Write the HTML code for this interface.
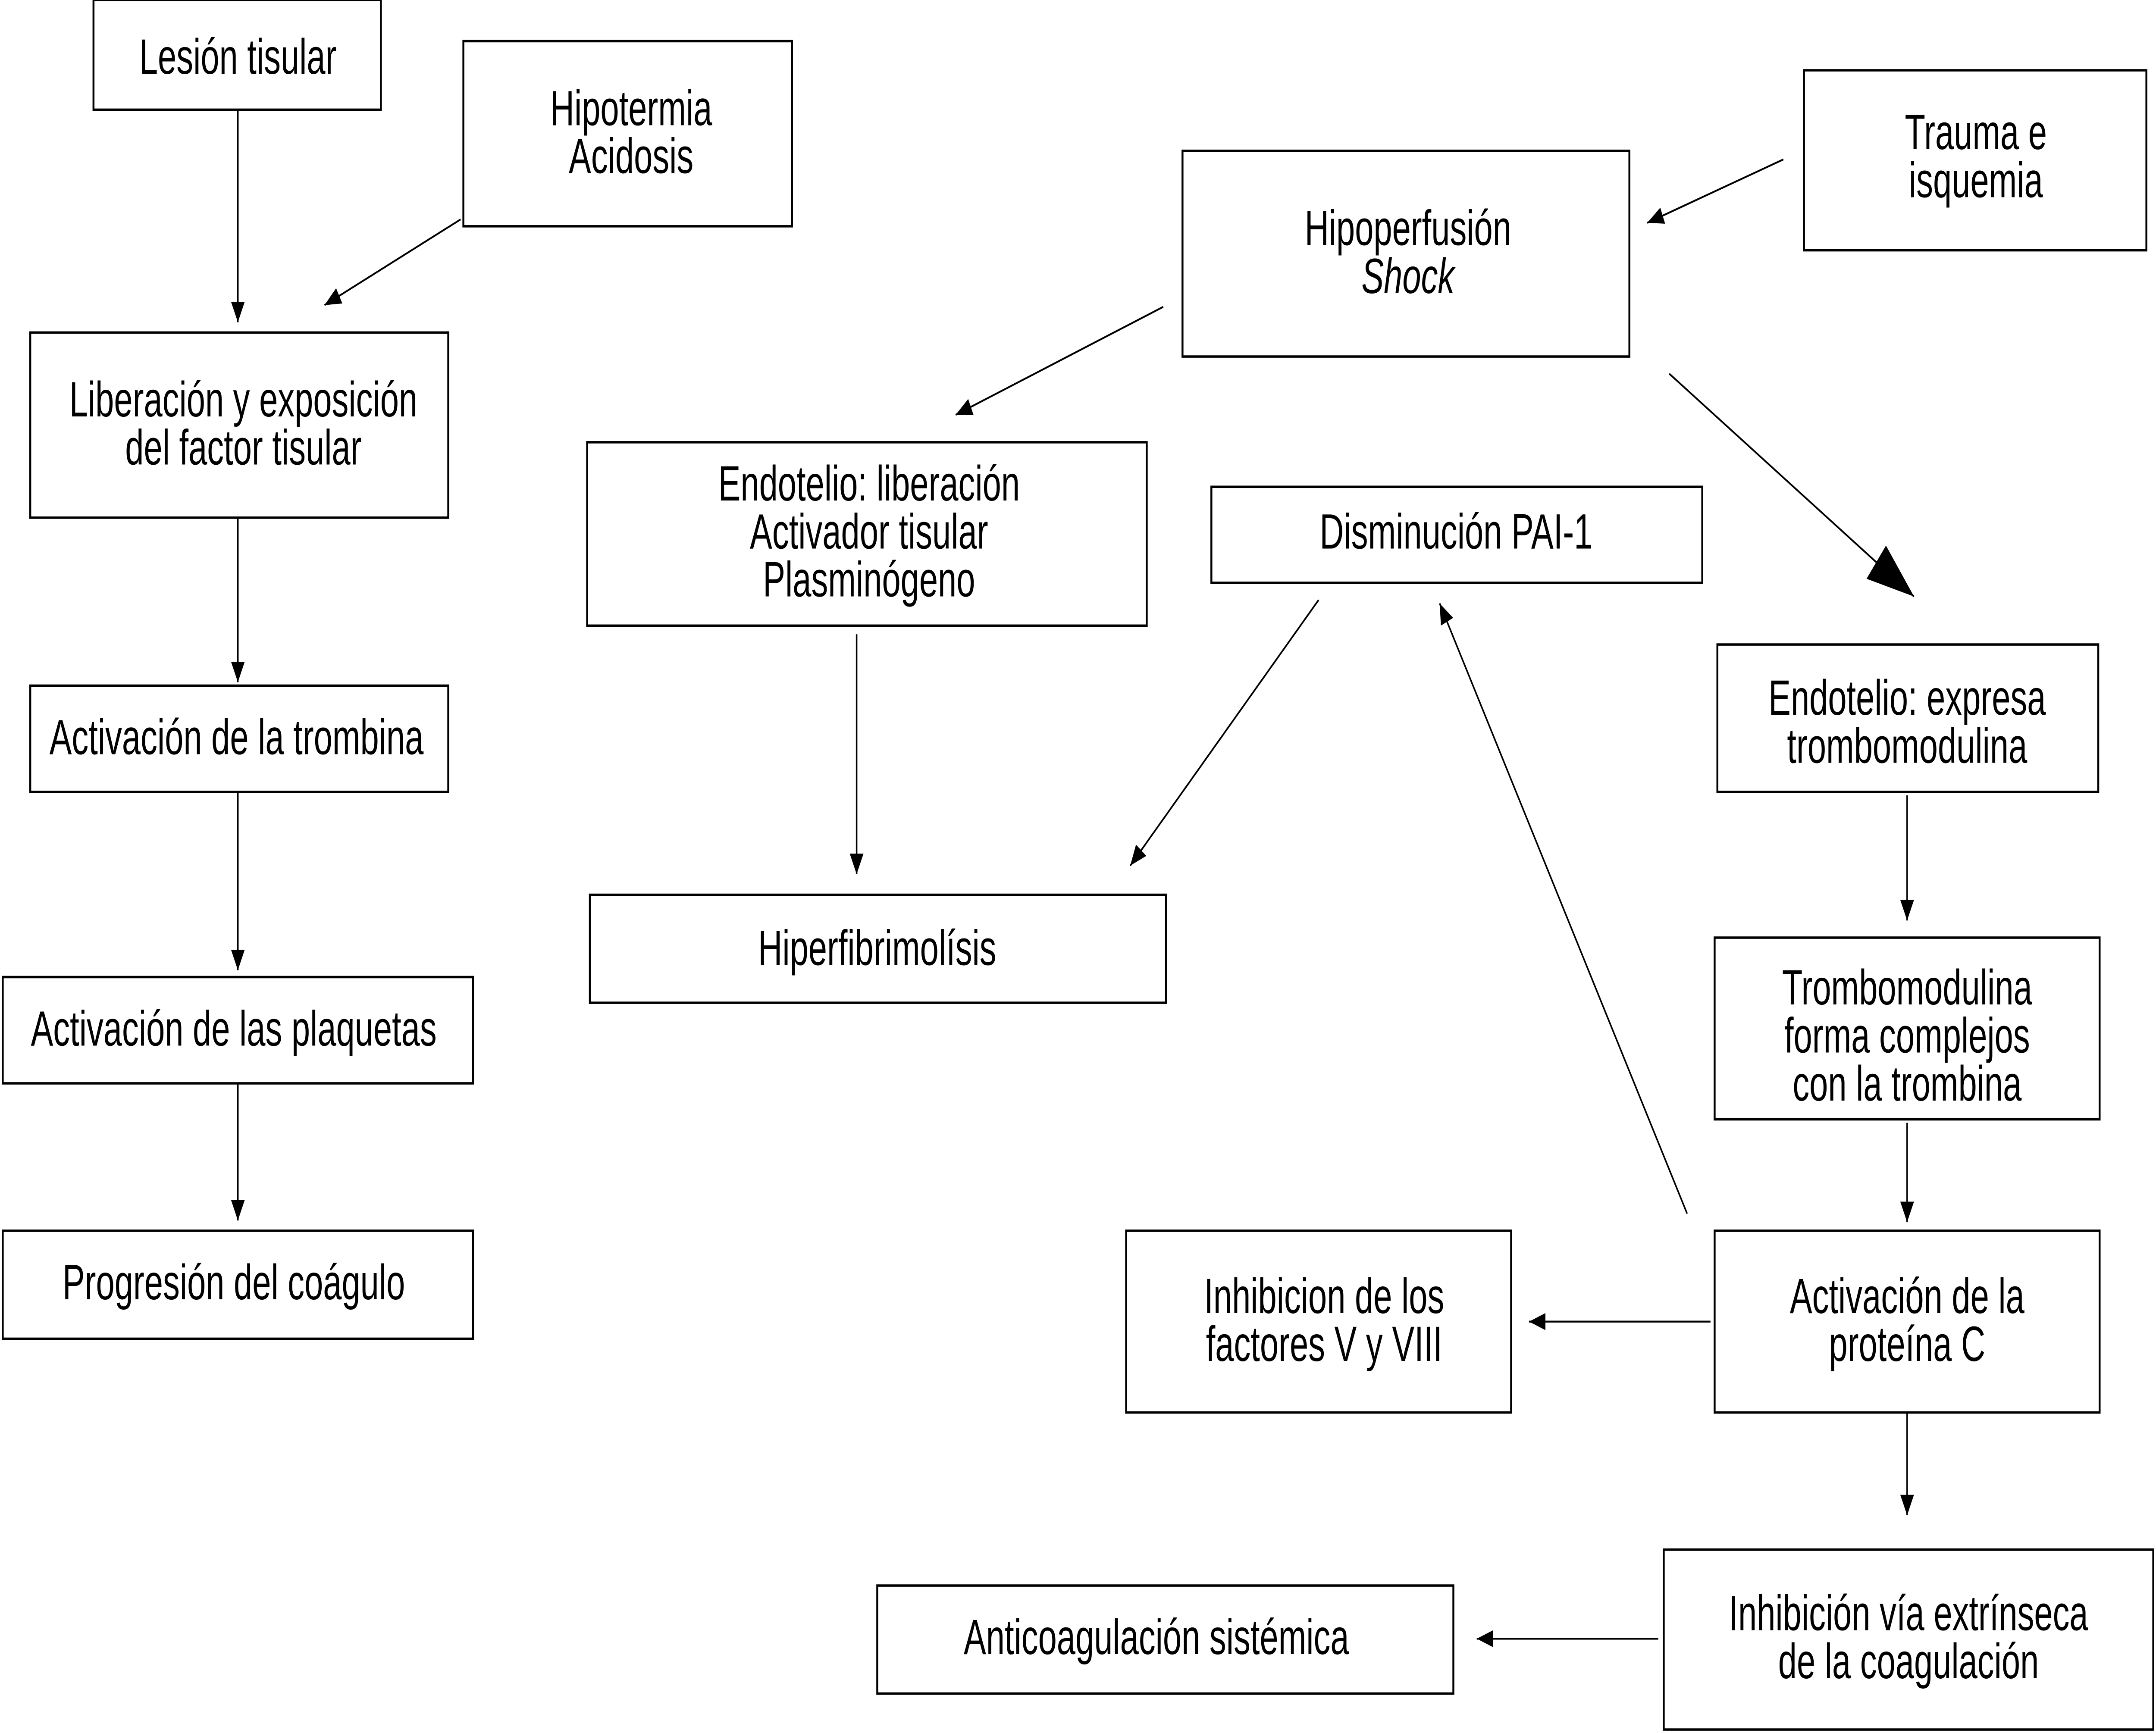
<!DOCTYPE html>
<html><head><meta charset="utf-8"><style>
html,body{margin:0;padding:0;background:#fff;width:100%;height:100%;overflow:hidden;}
svg{display:block;position:fixed;left:0;top:0;width:100vw;height:100vh;}
text{font-family:"Liberation Sans",sans-serif;font-size:29px;fill:#000;text-anchor:middle;}
</style></head><body>
<svg viewBox="0 0 1568 1011" preserveAspectRatio="none" xmlns="http://www.w3.org/2000/svg">
<defs>
<marker id="a" markerUnits="userSpaceOnUse" markerWidth="14" markerHeight="10" refX="12" refY="5" orient="auto"><path d="M0,0 L12,5 L0,10 z" fill="#000"/></marker>
<marker id="b" markerUnits="userSpaceOnUse" markerWidth="36" markerHeight="24" refX="34" refY="12" orient="auto"><path d="M0,0 L34,12 L0,24 z" fill="#000"/></marker>
</defs>
<g fill="none" stroke="#000" stroke-width="1.4">
<rect x="68" y="0" width="209" height="64"/>
<rect x="337" y="24" width="239" height="108"/>
<rect x="22" y="194" width="304" height="108"/>
<rect x="22" y="400" width="304" height="62"/>
<rect x="2" y="570" width="342" height="62"/>
<rect x="2" y="718" width="342" height="63"/>
<rect x="860" y="88" width="325" height="120"/>
<rect x="1312" y="41" width="249" height="105"/>
<rect x="427" y="258" width="407" height="107"/>
<rect x="881" y="284" width="357" height="56"/>
<rect x="429" y="522" width="419" height="63"/>
<rect x="1249" y="376" width="277" height="86"/>
<rect x="1247" y="547" width="280" height="106"/>
<rect x="1247" y="718" width="280" height="106"/>
<rect x="819" y="718" width="280" height="106"/>
<rect x="1210" y="904" width="356" height="105"/>
<rect x="638" y="925" width="419" height="63"/>
</g>
<g stroke="#000" stroke-width="1.1" fill="none" marker-end="url(#a)">
<line x1="173" y1="64" x2="173" y2="188"/>
<line x1="335" y1="128" x2="236" y2="178"/>
<line x1="173" y1="302" x2="173" y2="398"/>
<line x1="173" y1="462" x2="173" y2="566"/>
<line x1="173" y1="632" x2="173" y2="712"/>
<line x1="1297" y1="93" x2="1198" y2="130"/>
<line x1="846" y1="179" x2="695" y2="242"/>
<line x1="623" y1="370" x2="623" y2="510"/>
<line x1="959" y1="350" x2="822" y2="505"/>
<line x1="1227" y1="708" x2="1047" y2="352"/>
<line x1="1387" y1="464" x2="1387" y2="537"/>
<line x1="1387" y1="655" x2="1387" y2="713"/>
<line x1="1244" y1="771" x2="1112" y2="771"/>
<line x1="1387" y1="824" x2="1387" y2="884"/>
<line x1="1206" y1="956" x2="1074" y2="956"/>
</g>
<line x1="1214" y1="218" x2="1392" y2="348" stroke="#000" stroke-width="1.1" marker-end="url(#b)"/>
<g>
<text transform="translate(173,43) scale(0.84,1)">Lesión tisular</text>
<text transform="translate(459,73) scale(0.84,1)">Hipotermia</text>
<text transform="translate(459,101) scale(0.84,1)">Acidosis</text>
<text transform="translate(177,243) scale(0.84,1)">Liberación y exposición</text>
<text transform="translate(177,271) scale(0.84,1)">del factor tisular</text>
<text transform="translate(172,440) scale(0.84,1)">Activación de la trombina</text>
<text transform="translate(170,610) scale(0.84,1)">Activación de las plaquetas</text>
<text transform="translate(170,758) scale(0.84,1)">Progresión del coágulo</text>
<text transform="translate(1024,143) scale(0.84,1)">Hipoperfusión</text>
<text transform="translate(1024,171) scale(0.84,1)" font-style="italic">Shock</text>
<text transform="translate(1437,87) scale(0.84,1)">Trauma e</text>
<text transform="translate(1437,115) scale(0.84,1)">isquemia</text>
<text transform="translate(632,292) scale(0.84,1)">Endotelio: liberación</text>
<text transform="translate(632,320) scale(0.84,1)">Activador tisular</text>
<text transform="translate(632,348) scale(0.84,1)">Plasminógeno</text>
<text transform="translate(1059,320) scale(0.84,1)">Disminución PAI-1</text>
<text transform="translate(638,563) scale(0.84,1)">Hiperfibrimolísis</text>
<text transform="translate(1387,417) scale(0.84,1)">Endotelio: expresa</text>
<text transform="translate(1387,445) scale(0.84,1)">trombomodulina</text>
<text transform="translate(1387,586) scale(0.84,1)">Trombomodulina</text>
<text transform="translate(1387,614) scale(0.84,1)">forma complejos</text>
<text transform="translate(1387,642) scale(0.84,1)">con la trombina</text>
<text transform="translate(1387,766) scale(0.84,1)">Activación de la</text>
<text transform="translate(1387,794) scale(0.84,1)">proteína C</text>
<text transform="translate(963,766) scale(0.84,1)">Inhibicion de los</text>
<text transform="translate(963,794) scale(0.84,1)">factores V y VIII</text>
<text transform="translate(1388,951) scale(0.84,1)">Inhibición vía extrínseca</text>
<text transform="translate(1388,979) scale(0.84,1)">de la coagulación</text>
<text transform="translate(841,965) scale(0.84,1)">Anticoagulación sistémica</text>
</g>
</svg>
</body></html>
